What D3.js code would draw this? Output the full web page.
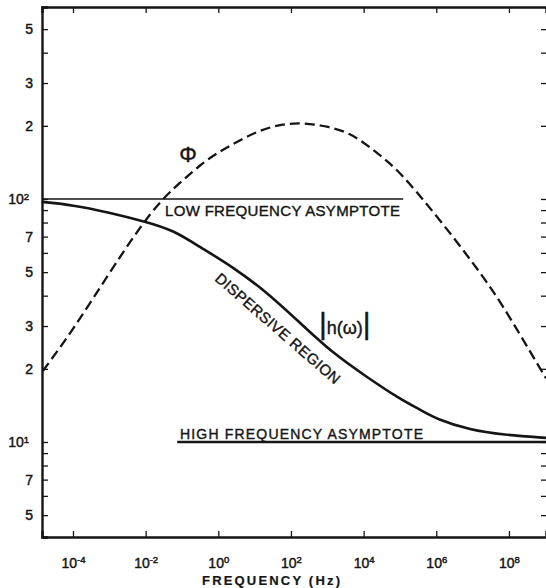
<!DOCTYPE html>
<html>
<head>
<meta charset="utf-8">
<script src="https://cdn.jsdelivr.net/npm/d3@7"></script>
<style>
  body { margin: 0; background: #fff; }
  svg { display: block; font-family: "Liberation Sans", Arial, sans-serif; }
</style>
</head>
<body>
<div id="chart"></div>
<script>
// |h(w)| curve : frequency as power of ten, magnitude
var hExp = [-4.86, -4.0, -3.07, -1.96, -1.25, -0.5, 0.4, 1.33, 2.25, 3.15, 4.09, 5.0, 5.55, 6.02, 6.93, 7.84, 9.02];
var hMag = [97.3, 94.4, 88.5, 80.4, 74.5, 63.4, 52.5, 41.4, 30.9, 23.2, 18.5, 15.0, 13.6, 12.4, 11.2, 10.7, 10.4];

// phase curve (dashed), drawn in the same plot units
var phiExp = [-4.83, -4.0, -3.07, -2.16, -1.52, -0.97, -0.5, -0.04, 0.51, 1.15, 1.78, 2.33, 2.99, 3.62, 4.17, 4.72, 5.19, 6.1, 7.01, 7.75, 8.93, 9.02];
var phiVal = [19.6, 28.9, 47.8, 76.7, 100.9, 119.7, 138, 154.5, 171.8, 192.3, 203.7, 205.6, 199.5, 187.1, 163.7, 140.6, 119.7, 82.0, 54.6, 38.4, 19.2, 18.3];

// asymptotes [start exp, end exp], level
var lowAsymExp = [-4.85, 5.09], lowAsymVal = 100;
var highAsymExp = [-1.13, 9.02], highAsymVal = 10;

var xTickExp = [-4, -2, 0, 2, 4, 6, 8];
var yMajor = [500, 300, 200, 100, 70, 50, 30, 20, 10, 7, 5];
var yMinor = [400, 90, 80, 60, 40, 9, 8, 6];
var yLabels = {500: "5", 300: "3", 200: "2", 70: "7", 50: "5", 30: "3", 20: "2", 7: "7", 5: "5"};

var margin = {top: 7, right: 0, bottom: 51, left: 42},
    width = 546 - margin.left - margin.right,
    height = 588 - margin.top - margin.bottom;

var ink = "#151515";

var svg = d3.select("#chart")
  .append("svg")
    .attr("width", 546)
    .attr("height", 588);

var g = svg.append("g")
    .attr("transform", "translate(" + margin.left + "," + margin.top + ")");

var x = d3.scaleLog()
    .domain([Math.pow(10, -4.853), Math.pow(10, 9.02)])
    .range([0, width]);

var y = d3.scaleLog()
    .domain([Math.pow(10, 0.609), Math.pow(10, 2.79)])
    .range([height, 0]);

var p10 = function(e) { return Math.pow(10, e); };

// ---- axes
var xb = g.append("g")
    .attr("transform", "translate(0," + height + ")")
    .call(d3.axisBottom(x).tickValues(xTickExp.map(p10)).tickSize(-6).tickPadding(21).tickFormat(function() { return ""; }));

xb.selectAll(".tick text").each(function(d, i) {
  var t = d3.select(this).attr("font-size", 14);
  t.append("tspan").text("10");
  t.append("tspan").attr("dy", "-0.5em").attr("font-size", 9.5).text(xTickExp[i]);
});

var xt = g.append("g")
    .call(d3.axisTop(x).tickValues(xTickExp.map(p10)).tickSize(-6).tickFormat(function() { return ""; }));

var yl = g.append("g")
    .call(d3.axisLeft(y).tickValues(yMajor.concat(yMinor)).tickSize(-6).tickPadding(9)
      .tickFormat(function(d) { return yLabels[d] || ""; }));

yl.selectAll(".tick text").attr("font-size", 14)
  .each(function(d) {
    if (d === 100 || d === 10) {
      var t = d3.select(this).attr("dx", -4);
      t.append("tspan").text("10");
      t.append("tspan").attr("dy", "-0.45em").attr("font-size", 9.5).text(d === 100 ? "2" : "1");
    }
  });

var yr = g.append("g")
    .attr("transform", "translate(" + width + ",0)")
    .call(d3.axisRight(y).tickValues(yMajor.concat(yMinor)).tickSize(-5).tickFormat(function() { return ""; }));
yr.select(".domain").remove();

[xb, xt, yl, yr].forEach(function(a) {
  a.selectAll("line").attr("stroke", ink).attr("stroke-width", 1.3);
  a.selectAll("text").attr("fill", ink).attr("stroke", ink).attr("stroke-width", 0.45)
    .attr("font-family", "Liberation Sans, Arial, sans-serif");
  a.select(".domain").attr("stroke", ink).attr("stroke-width", 2.4);
});

// ---- asymptotes
var line = d3.line()
    .x(function(d) { return x(d[0]); })
    .y(function(d) { return y(d[1]); });

g.append("path")
    .datum(lowAsymExp.map(function(e) { return [p10(e), lowAsymVal]; }))
    .attr("d", line)
    .attr("fill", "none").attr("stroke", ink).attr("stroke-width", 1.6);

g.append("path")
    .datum(highAsymExp.map(function(e) { return [p10(e), highAsymVal]; }))
    .attr("d", line)
    .attr("fill", "none").attr("stroke", ink).attr("stroke-width", 2.6);

// ---- curves
var curve = d3.line()
    .x(function(d) { return x(d[0]); })
    .y(function(d) { return y(d[1]); })
    .curve(d3.curveBasis);

g.append("path")
    .datum(hExp.map(function(e, i) { return [p10(e), hMag[i]]; }))
    .attr("d", curve)
    .attr("fill", "none").attr("stroke", ink).attr("stroke-width", 2.6);

g.append("path")
    .datum(phiExp.map(function(e, i) { return [p10(e), phiVal[i]]; }))
    .attr("d", curve)
    .attr("fill", "none").attr("stroke", ink).attr("stroke-width", 2.3)
    .attr("stroke-dasharray", "10,5");

// ---- annotations
var label = function(s) {
  return svg.append("text").attr("fill", ink).attr("stroke", ink).attr("stroke-width", 0.4).text(s);
};

label("LOW FREQUENCY ASYMPTOTE")
    .attr("x", 165).attr("y", 216)
    .attr("font-size", 15)
    .attr("textLength", 235).attr("lengthAdjust", "spacing");

label("HIGH  FREQUENCY  ASYMPTOTE")
    .attr("x", 180).attr("y", 439)
    .attr("font-size", 14)
    .attr("textLength", 243).attr("lengthAdjust", "spacing");

label("DISPERSIVE REGION")
    .attr("transform", "translate(214,280) rotate(41)")
    .attr("font-size", 15)
    .attr("textLength", 160).attr("lengthAdjust", "spacing");

label("Φ")
    .attr("x", 188).attr("y", 162)
    .attr("text-anchor", "middle")
    .attr("font-size", 22);

var hl = svg.append("text")
    .attr("x", 319).attr("y", 334)
    .attr("fill", ink).attr("stroke", ink).attr("stroke-width", 0.4);
hl.append("tspan").attr("font-size", 30).text("|");
hl.append("tspan").attr("font-size", 18).text("h(ω)");
hl.append("tspan").attr("font-size", 30).text("|");

label("FREQUENCY  (Hz)")
    .attr("x", 202).attr("y", 585)
    .attr("font-size", 13).attr("font-weight", "bold")
    .attr("stroke-width", 0.2)
    .attr("textLength", 138).attr("lengthAdjust", "spacing");
</script>
</body>
</html>
